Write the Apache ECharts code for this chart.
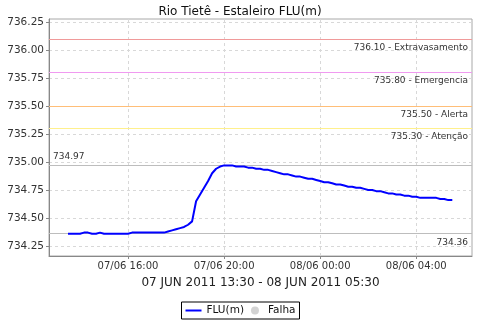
<!DOCTYPE html>
<html>
<head>
<meta charset="utf-8">
<script src="https://cdn.jsdelivr.net/npm/echarts@6/dist/echarts.min.js"></script>
<style>html,body{margin:0;padding:0;background:#fff}#c{width:480px;height:320px}</style>
</head>
<body>
<div id="c"></div>
<script>
// Title / axis text
const titleText = 'Rio Tietê - Estaleiro FLU(m)';
const xAxisName = '07 JUN 2011 13:30 - 08 JUN 2011 05:30';
// Time of first sample (hours from 07/06 00:00) and sample step (10 min)
const startHour = 13.5;
const stepHour = 1 / 6;
// FLU(m) values, one every 10 minutes from 07/06 13:30 to 08/06 05:30
const fluValues = [
  734.36, 734.36, 734.36, 734.36, 734.37, 734.37, 734.36, 734.36, 734.37, 734.36,
  734.36, 734.36, 734.36, 734.36, 734.36, 734.36, 734.37, 734.37, 734.37, 734.37,
  734.37, 734.37, 734.37, 734.37, 734.37, 734.38, 734.39, 734.40, 734.41, 734.42,
  734.44, 734.47, 734.65, 734.71, 734.77, 734.83, 734.90, 734.94, 734.96, 734.97,
  734.97, 734.97, 734.96, 734.96, 734.96, 734.95, 734.95, 734.94, 734.94, 734.93,
  734.93, 734.92, 734.91, 734.90, 734.89, 734.89, 734.88, 734.87, 734.87, 734.86,
  734.85, 734.85, 734.84, 734.83, 734.82, 734.82, 734.81, 734.80, 734.80, 734.79,
  734.78, 734.78, 734.77, 734.77, 734.76, 734.75, 734.75, 734.74, 734.74, 734.73,
  734.72, 734.72, 734.71, 734.71, 734.70, 734.70, 734.69, 734.69, 734.68, 734.68,
  734.68, 734.68, 734.68, 734.67, 734.67, 734.66, 734.66
];
// Threshold lines
const thresholdValues = [736.10, 735.80, 735.50, 735.30];
const thresholdNames = ['Extravasamento', 'Emergencia', 'Alerta', 'Atenção'];
const thresholdColors = ['#f09a9a', '#f09af0', '#ffbe78', '#fff08c'];
// Max / min reference values
const maxValue = 734.97;
const minValue = 734.36;
// Axis ticks
const yTicks = [734.25, 734.50, 734.75, 735.00, 735.25, 735.50, 735.75, 736.00, 736.25];
const xTicks = [16, 20, 24, 28];
const xMin = 12.71, xMax = 30.32;
const yMin = 734.161, yMax = 736.277;

const seriesData = fluValues.map((v, i) => [startHour + i * stepHour, v]);
const FONT = 'DejaVu Sans';

function xLabel(v) {
  const day = v >= 24 ? '08/06' : '07/06';
  const h = Math.round(v % 24);
  return day + ' ' + String(h).padStart(2, '0') + ':00';
}

const markData = thresholdValues.map((v, i) => ({
  yAxis: v,
  lineStyle: { color: thresholdColors[i], width: 1, type: 'solid' },
  label: { formatter: v.toFixed(2) + ' - ' + thresholdNames[i], position: 'insideEndBottom' }
}));
markData.push({
  yAxis: maxValue,
  lineStyle: { color: '#bdbdbd', width: 1, type: 'solid' },
  label: { formatter: maxValue.toFixed(2), position: 'insideStartTop' }
});
markData.push({
  yAxis: minValue,
  lineStyle: { color: '#bdbdbd', width: 1, type: 'solid' },
  label: { formatter: minValue.toFixed(2), position: 'insideEndBottom' }
});

const chart = echarts.init(document.getElementById('c'), null, { renderer: 'canvas' });
chart.setOption({
  animation: false,
  backgroundColor: '#fff',
  title: {
    text: titleText, left: 'center', top: 1,
    textStyle: { fontFamily: FONT, fontSize: 12, fontWeight: 'normal', color: '#111' }
  },
  grid: { left: 49, right: 8, top: 19, bottom: 64, show: true, borderColor: '#a8a8a8', borderWidth: 1 },
  xAxis: {
    type: 'value', min: xMin, max: xMax,
    name: xAxisName, nameLocation: 'middle', nameGap: 21,
    nameTextStyle: { fontFamily: FONT, fontSize: 12, color: '#222' },
    axisLine: { lineStyle: { color: '#888' } },
    axisTick: { customValues: xTicks, length: 3, lineStyle: { color: '#888' } },
    axisLabel: { customValues: xTicks, formatter: xLabel, fontFamily: FONT, fontSize: 10, color: '#333', margin: 5 },
    splitLine: { show: true, lineStyle: { color: '#d8d8d8', type: [3, 3] } }
  },
  yAxis: {
    type: 'value', min: yMin, max: yMax,
    axisLine: { show: true, lineStyle: { color: '#888' } },
    axisTick: { show: true, customValues: yTicks, length: 3, lineStyle: { color: '#888' } },
    axisLabel: { customValues: yTicks, formatter: v => v.toFixed(2), fontFamily: FONT, fontSize: 10.5, color: '#333', margin: 5 },
    splitLine: { show: true, lineStyle: { color: '#d8d8d8', type: [3, 3] } }
  },
  legend: {
    bottom: 1, left: 'center',
    borderColor: '#000', borderWidth: 1, padding: [3, 4, 3, 3],
    itemWidth: 16, itemHeight: 8, itemGap: 7,
    textStyle: { fontFamily: FONT, fontSize: 10.5, color: '#111' },
    data: [
      { name: 'FLU(m)', itemStyle: { color: 'rgba(0,0,0,0)', borderWidth: 0 } },
      { name: 'Falha', icon: 'circle' }
    ]
  },
  series: [
    {
      name: 'FLU(m)', type: 'line', data: seriesData, z: 5,
      symbol: 'none', color: '#0000ff',
      lineStyle: { width: 2, color: '#0000ff' }
    },
    {
      name: 'Falha', type: 'scatter', data: [], z: 1,
      color: '#c8c8c8', itemStyle: { color: '#c8c8c8' },
      markLine: {
        silent: true, symbol: 'none', z: 1,
        label: { fontFamily: FONT, fontSize: 9, color: '#333', distance: [4, 4] },
        data: markData
      }
    }
  ]
});
</script>
</body>
</html>
